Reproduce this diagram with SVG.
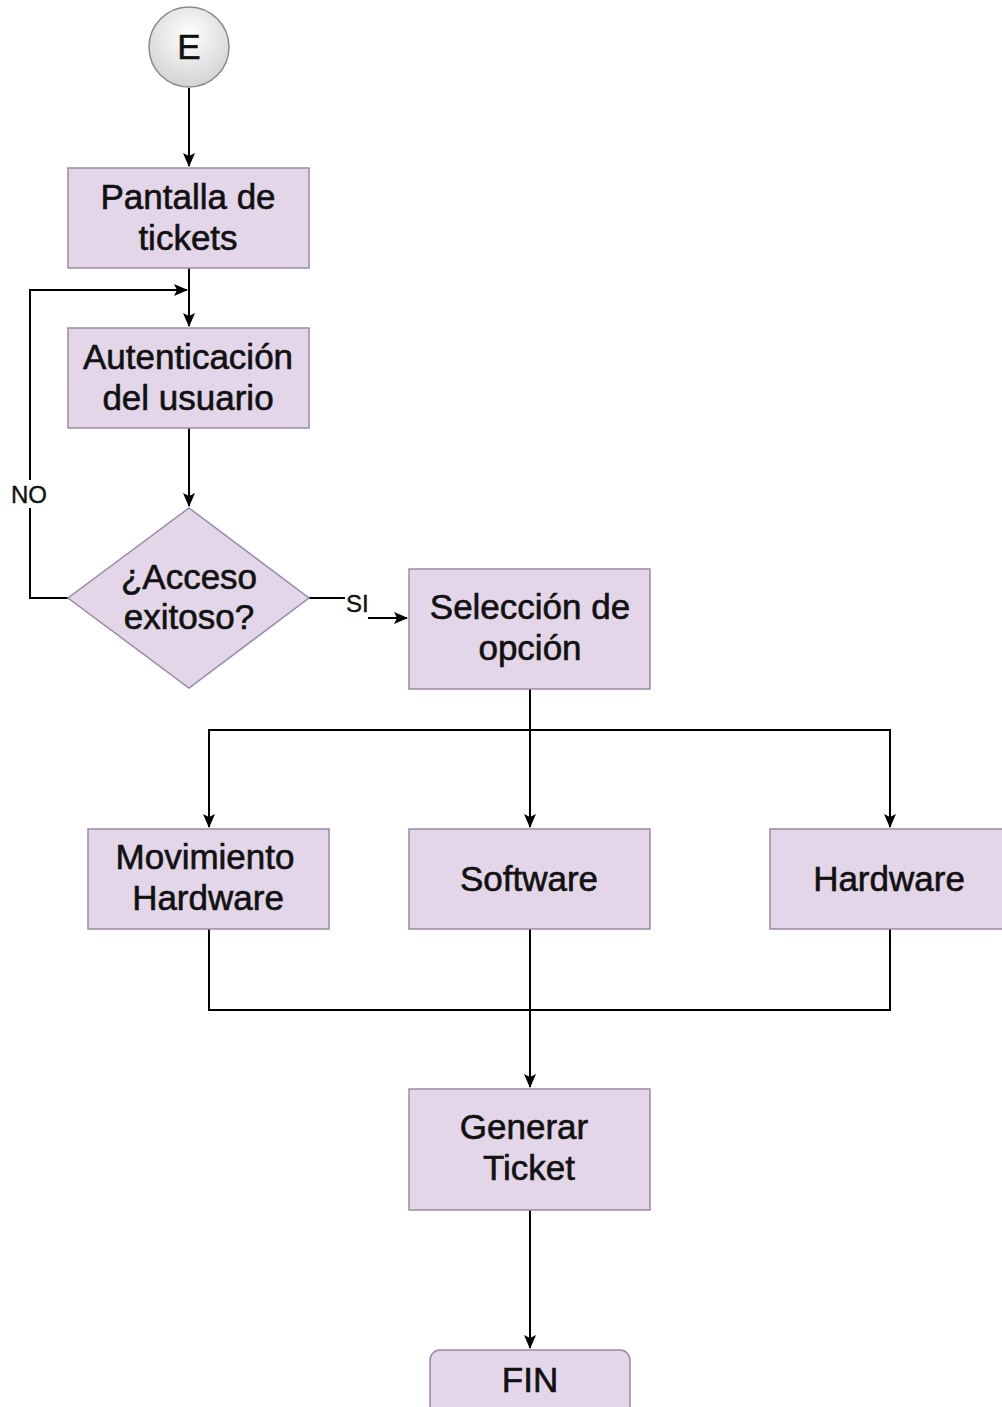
<svg xmlns="http://www.w3.org/2000/svg" width="1002" height="1407" viewBox="0 0 1002 1407">
<defs>
<radialGradient id="g" cx="50%" cy="35%" r="65%">
<stop offset="0" stop-color="#ffffff"/>
<stop offset="1" stop-color="#d3d3d3"/>
</radialGradient>
<marker id="ah" viewBox="0 0 14 14" refX="13" refY="7" markerWidth="14" markerHeight="14" markerUnits="userSpaceOnUse" orient="auto">
<path d="M0,1 L14,7 L0,13 L3,7 Z" fill="#000"/>
</marker>
<style>
.box{fill:#e2d6e8;stroke:#9a8aa2;stroke-width:1.5}
.t{font-family:"Liberation Sans",Arial,sans-serif;font-size:35px;fill:#111;stroke:#111;stroke-width:0.6;text-anchor:middle}
.s{font-family:"Liberation Sans",Arial,sans-serif;font-size:24px;fill:#111;stroke:#111;stroke-width:0.4}
.c{fill:none;stroke:#000;stroke-width:2}
</style>
</defs>
<rect width="1002" height="1407" fill="#fff"/>
<g id="connectors">
<path class="c" d="M189,88 V166" marker-end="url(#ah)"/>
<path class="c" d="M189,268 V326" marker-end="url(#ah)"/>
<path class="c" d="M68,598 H30 V290 H187" marker-end="url(#ah)"/>
<path class="c" d="M189,428 V506" marker-end="url(#ah)"/>
<path class="c" d="M309,598 H345"/>
<path class="c" d="M368,618 H407" marker-end="url(#ah)"/>
<path class="c" d="M530,689 V827" marker-end="url(#ah)"/>
<path class="c" d="M209,827 V730 H890 V827" marker-end="url(#ah)"/>
<path class="c" d="M209,730 V827" marker-end="url(#ah)"/>
<path class="c" d="M209,929 V1010 H890 V929"/>
<path class="c" d="M530,929 V1087" marker-end="url(#ah)"/>
<path class="c" d="M530,1210 V1348" marker-end="url(#ah)"/>
<rect x="10" y="480" width="42" height="28" fill="#fff"/>
<text class="s" x="11" y="503">NO</text>
<text class="s" x="346" y="612">SI</text>
</g>
<g id="start">
<circle cx="189" cy="47" r="40" fill="url(#g)" stroke="#8a8a8a" stroke-width="1.5"/>
<text class="t" x="189" y="59">E</text>
</g>
<g id="pantalla">
<rect class="box" x="68" y="168" width="241" height="100"/>
<text class="t" x="188" y="209">Pantalla de</text>
<text class="t" x="188" y="250">tickets</text>
</g>
<g id="autenticacion">
<rect class="box" x="68" y="328" width="241" height="100"/>
<text class="t" x="188" y="369">Autenticación</text>
<text class="t" x="188" y="410">del usuario</text>
</g>
<g id="acceso">
<polygon class="box" points="189,508 309,598 189,688 68,598"/>
<text class="t" x="189" y="589">¿Acceso</text>
<text class="t" x="189" y="629">exitoso?</text>
</g>
<g id="seleccion">
<rect class="box" x="409" y="569" width="241" height="120"/>
<text class="t" x="530" y="619">Selección de</text>
<text class="t" x="530" y="660">opción</text>
</g>
<g id="movimiento">
<rect class="box" x="88" y="829" width="241" height="100"/>
<text class="t" x="205" y="869">Movimiento</text>
<text class="t" x="208" y="910">Hardware</text>
</g>
<g id="software">
<rect class="box" x="409" y="829" width="241" height="100"/>
<text class="t" x="529" y="891">Software</text>
</g>
<g id="hardware">
<rect class="box" x="770" y="829" width="241" height="100"/>
<text class="t" x="889" y="891">Hardware</text>
</g>
<g id="generar">
<rect class="box" x="409" y="1089" width="241" height="121"/>
<text class="t" x="524" y="1139">Generar</text>
<text class="t" x="529" y="1180">Ticket</text>
</g>
<g id="fin">
<rect class="box" x="430" y="1350" width="200" height="70" rx="10"/>
<text class="t" x="530" y="1392">FIN</text>
</g>
</svg>
